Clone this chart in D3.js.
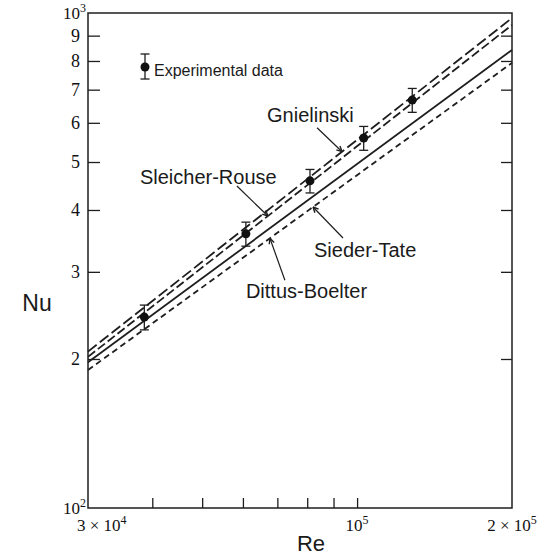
<!DOCTYPE html>
<html>
<head>
<meta charset="utf-8">
<script src="https://cdn.jsdelivr.net/npm/d3@7"></script>
<style>
body { margin: 0; background: #fff; }
svg { display: block; }
.lbl { font-family: "Liberation Sans", Arial, sans-serif; fill: #1a1a1a; }
.tlbl { font-family: "Liberation Serif", "Times New Roman", serif; fill: #111; }
</style>
</head>
<body>
<svg id="chart"></svg>
<script>
// experimental points (Re, Nu, +/- error)
var reData = [3.86e4, 6.08e4, 8.1e4, 1.03e5, 1.28e5];
var nuData = [243, 358, 458, 559, 667];
var nuErr = [14, 20, 25, 31, 37];

// correlations, Nu at both ends of the Re range
var corrNames = ["Gnielinski", "Sleicher-Rouse", "Dittus-Boelter", "Sieder-Tate"];
var reEnds = [3e4, 2e5];
var nuAtLow = [207, 202, 197, 190];
var nuAtHigh = [977, 946, 842, 793];

// ticks
var yTickVals = [200, 300, 400, 500, 600, 700, 800, 900];
var yLabelVals = [100, 200, 300, 400, 500, 600, 700, 800, 900, 1000];
var xTickVals = [4e4, 5e4, 6e4, 7e4, 8e4, 9e4, 1e5];
var xLabelVals = [3e4, 1e5, 2e5];

var screen = {width: 542, height: 555};
var frame = {left: 88, right: 512, top: 13, bottom: 508};
var ink = "#1e1e1e";

var svg = d3.select("#chart")
    .attr("width", screen.width)
    .attr("height", screen.height);

var x = d3.scaleLog().domain(reEnds).range([frame.left, frame.right]);
var y = d3.scaleLog().domain([100, 1000]).range([frame.bottom, frame.top]);

// frame
svg.append("rect")
    .attr("x", frame.left)
    .attr("y", frame.top)
    .attr("width", frame.right - frame.left)
    .attr("height", frame.bottom - frame.top)
    .attr("fill", "none")
    .attr("stroke", ink)
    .attr("stroke-width", 1.5);

// axes, ticks only
var yLeft = d3.axisLeft(y).tickValues(yTickVals).tickSizeInner(-12).tickSizeOuter(0).tickFormat("");
var yRight = d3.axisRight(y).tickValues(yTickVals).tickSizeInner(-11).tickSizeOuter(0).tickFormat("");
var xBottom = d3.axisBottom(x).tickValues(xTickVals).tickSizeInner(-10).tickSizeOuter(0).tickFormat("");

svg.append("g").attr("transform", "translate(" + frame.left + ",0)").call(yLeft);
svg.append("g").attr("transform", "translate(" + frame.right + ",0)").call(yRight);
svg.append("g").attr("transform", "translate(0," + frame.bottom + ")").call(xBottom);

svg.selectAll(".domain").remove();
svg.selectAll(".tick line").attr("stroke", ink).attr("stroke-width", 1.3);

// y tick labels
var yl = svg.append("g").selectAll("text")
    .data(yLabelVals)
    .enter()
    .append("text")
    .classed("tlbl", true)
    .attr("font-size", 18)
    .attr("text-anchor", "end")
    .attr("x", function(d) { return (d == 100 || d == 1000) ? frame.left - 2 : frame.left - 8; })
    .attr("y", function(d) { return y(d); })
    .attr("dy", "0.35em");
yl.each(function(d)
{
    var t = d3.select(this);
    if (d == 100 || d == 1000)
    {
        t.attr("font-size", 17);
        t.append("tspan").text("10");
        t.append("tspan").attr("font-size", 12).attr("dy", "-0.6em").text(d == 100 ? "2" : "3");
    }
    else
    {
        t.text(d / 100);
    }
});

// x tick labels
var xl = svg.append("g").selectAll("text")
    .data(xLabelVals)
    .enter()
    .append("text")
    .classed("tlbl", true)
    .attr("font-size", 17)
    .attr("text-anchor", function(d) { return d == 3e4 ? "start" : "middle"; })
    .attr("x", function(d) { return d == 3e4 ? x(d) - 11 : x(d); })
    .attr("y", frame.bottom + 23);
xl.each(function(d)
{
    var t = d3.select(this);
    var p = Math.floor(Math.log10(d));
    var m = Math.round(d / Math.pow(10, p));
    t.append("tspan").text((m == 1 ? "" : m + " \u00d7 ") + "10");
    t.append("tspan").attr("font-size", 12).attr("dy", "-0.6em").text(p);
});

// axis titles
svg.append("text").classed("lbl", true)
    .attr("x", 37).attr("y", 311)
    .attr("text-anchor", "middle")
    .attr("font-size", 23)
    .text("Nu");
svg.append("text").classed("lbl", true)
    .attr("x", 311).attr("y", 551)
    .attr("text-anchor", "middle")
    .attr("font-size", 22)
    .text("Re");

// correlation lines
var dashes = ["11,4", "9,3.5", null, "6,4"];
var line = d3.line()
    .x(function(d) { return x(d[0]); })
    .y(function(d) { return y(d[1]); });

var lineData = corrNames.map(function(name, i)
{
    return {name: name, pts: [[reEnds[0], nuAtLow[i]], [reEnds[1], nuAtHigh[i]]]};
});

svg.append("g").selectAll("path")
    .data(lineData)
    .enter()
    .append("path")
    .attr("d", function(d) { return line(d.pts); })
    .attr("fill", "none")
    .attr("stroke", ink)
    .attr("stroke-width", 1.8)
    .attr("stroke-dasharray", function(d, i) { return dashes[i]; });

// nu on a correlation line (straight in log-log)
var nuOnLine = function(i, re)
{
    var f = Math.log(re / reEnds[0]) / Math.log(reEnds[1] / reEnds[0]);
    return Math.exp(Math.log(nuAtLow[i]) + f * Math.log(nuAtHigh[i] / nuAtLow[i]));
};

// labels with leader lines: tip on a line at Re, tail and text offsets in px
var notes = [
    {text: "Gnielinski", line: 0, re: 9.35e4, tail: [-25, -24], txt: [-75, -30]},
    {text: "Sleicher-Rouse", line: 1, re: 6.71e4, tail: [-31, -30], txt: [-128, -32]},
    {text: "Sieder-Tate", line: 3, re: 8.21e4, tail: [30, 31], txt: [1, 50]},
    {text: "Dittus-Boelter", line: 3, re: 6.77e4, tail: [15, 42], txt: [-24, 60]}
];

var ng = svg.append("g");
notes.forEach(function(n)
{
    var tx = x(n.re), ty = y(nuOnLine(n.line, n.re));
    var sx = tx + n.tail[0], sy = ty + n.tail[1];
    ng.append("line")
        .attr("x1", sx).attr("y1", sy)
        .attr("x2", tx).attr("y2", ty)
        .attr("stroke", ink).attr("stroke-width", 1.2);
    // small arrow head
    var a = Math.atan2(ty - sy, tx - sx);
    var hl = 6, hw = 0.45;
    ng.append("path")
        .attr("d", "M" + tx + "," + ty
            + "L" + (tx - hl * Math.cos(a - hw)) + "," + (ty - hl * Math.sin(a - hw))
            + "M" + tx + "," + ty
            + "L" + (tx - hl * Math.cos(a + hw)) + "," + (ty - hl * Math.sin(a + hw)))
        .attr("fill", "none")
        .attr("stroke", ink).attr("stroke-width", 1.4);
    ng.append("text").classed("lbl", true)
        .attr("x", tx + n.txt[0]).attr("y", ty + n.txt[1])
        .attr("font-size", 20)
        .text(n.text);
});

// experimental points with error bars
var pts = reData.map(function(re, i) { return {re: re, nu: nuData[i], err: nuErr[i]}; });
var pg = svg.append("g").selectAll("g")
    .data(pts)
    .enter()
    .append("g");
pg.append("line")
    .attr("x1", function(d) { return x(d.re); })
    .attr("x2", function(d) { return x(d.re); })
    .attr("y1", function(d) { return y(d.nu - d.err); })
    .attr("y2", function(d) { return y(d.nu + d.err); })
    .attr("stroke", ink).attr("stroke-width", 1.3);
[-1, 1].forEach(function(s)
{
    pg.append("line")
        .attr("x1", function(d) { return x(d.re) - 4.5; })
        .attr("x2", function(d) { return x(d.re) + 4.5; })
        .attr("y1", function(d) { return y(d.nu + s * d.err); })
        .attr("y2", function(d) { return y(d.nu + s * d.err); })
        .attr("stroke", ink).attr("stroke-width", 1.3);
});
pg.append("circle")
    .attr("cx", function(d) { return x(d.re); })
    .attr("cy", function(d) { return y(d.nu); })
    .attr("r", 4.5)
    .attr("fill", "#111");

// legend
var lg = svg.append("g").attr("transform", "translate(145,67)");
lg.append("line").attr("x1", 0).attr("x2", 0).attr("y1", -13).attr("y2", 12)
    .attr("stroke", ink).attr("stroke-width", 1.3);
lg.append("line").attr("x1", -4.5).attr("x2", 4.5).attr("y1", -13).attr("y2", -13)
    .attr("stroke", ink).attr("stroke-width", 1.3);
lg.append("line").attr("x1", -4.5).attr("x2", 4.5).attr("y1", 12).attr("y2", 12)
    .attr("stroke", ink).attr("stroke-width", 1.3);
lg.append("circle").attr("r", 4.5).attr("fill", "#111");
lg.append("text").classed("lbl", true)
    .attr("x", 9).attr("y", 9)
    .attr("font-size", 16)
    .text("Experimental data");
</script>
</body>
</html>
